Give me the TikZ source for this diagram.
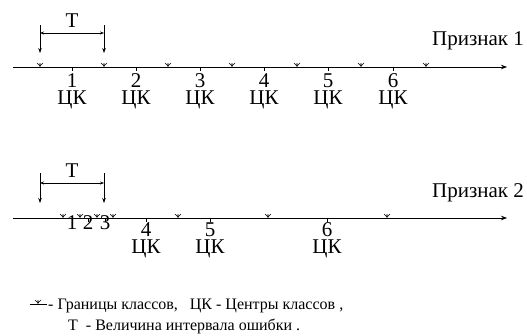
\documentclass[tikz,border=0pt]{standalone}
\usepackage{fontspec}
\setmainfont{Liberation Serif}
\newfontfamily\tnr{Liberation Serif}
\usetikzlibrary{arrows.meta, positioning}

\tikzset{
  axis/.style={line width=0.7pt, -{Stealth[length=6pt,width=4.5pt]}},
  tmark/.style={line width=0.6pt, -{Stealth[length=5pt,width=3.5pt]}},
  tspan/.style={line width=0.6pt, {Stealth[length=4pt,width=3pt]}-{Stealth[length=4pt,width=3pt]}},
  tick/.style={line width=0.6pt},
  lbl/.style={font=\tnr\fontsize{21}{16}\selectfont, inner sep=0pt},
  legend/.style={font=\tnr\fontsize{16}{16}\selectfont, inner sep=0pt, anchor=base west},
  bnd/.pic={\draw[line width=0.6pt] (-3,-4) -- (0,-1) -- (3,-4) (0,-4) -- (0,0);}
}

\begin{document}
\begin{tikzpicture}[x=1pt, y=-1pt]
  \useasboundingbox (0,0) rectangle (527,335);

  % Feature 1
  \begin{scope}[shift={(0,67)}]
    \coordinate (s1) at (13,0);
    \coordinate (e1) at (507,0);
    \draw[axis] (s1) -- (e1);
    \foreach \x in {40,104,168,232,297,361,426}
      \pic at (\x,0) {bnd};
    \foreach \x/\n in {72/1,136/2,200/3,264/4,328/5,393/6} {
      \draw[tick] (\x,0) -- (\x,4);
      \node[lbl, anchor=base] (da\n) at (\x,20) {\n};
      \node[lbl, anchor=base] (ka\n) at (\x,37.5) {ЦК};
    }
    % error interval
    \coordinate (ta1) at (40,-42);  \coordinate (ta2) at (40,-14);
    \coordinate (tb1) at (104,-42); \coordinate (tb2) at (104,-14);
    \coordinate (ha) at (40,-34);   \coordinate (hb) at (104,-34);
    \draw[tmark] (ta1) -- (ta2);
    \draw[tmark] (tb1) -- (tb2);
    \draw[tspan] (ha) -- (hb);
    \node[lbl, anchor=base] (ta) at (72,-40) {T};
    \node[lbl, anchor=base west] (pa) at (432,-22) {Признак 1};
  \end{scope}

  % Feature 2
  \begin{scope}[shift={(0,218)}]
    \coordinate (s2) at (13,0);
    \coordinate (e2) at (507,0);
    \draw[axis] (s2) -- (e2);
    \foreach \x in {63,80,97,113,178,268,387}
      \pic at (\x,0) {bnd};
    \foreach \x/\n in {72/1,88/2,105/3} {
      \draw[tick] (\x,0) -- (\x,4);
      \node[lbl, anchor=base] (db\n) at (\x,11) {\n};
    }
    \foreach \x/\n in {146/4,210/5,327/6} {
      \draw[tick] (\x,0) -- (\x,4);
      \node[lbl, anchor=base] (db\n) at (\x,18) {\n};
      \node[lbl, anchor=base] (kb\n) at (\x,35.5) {ЦК};
    }
    % error interval
    \coordinate (tc1) at (40,-45);  \coordinate (tc2) at (40,-15);
    \coordinate (td1) at (104,-45); \coordinate (td2) at (104,-15);
    \coordinate (hc) at (40,-35);   \coordinate (hd) at (104,-35);
    \draw[tmark] (tc1) -- (tc2);
    \draw[tmark] (td1) -- (td2);
    \draw[tspan] (hc) -- (hd);
    \node[lbl, anchor=base] (tb) at (72,-41) {T};
    \node[lbl, anchor=base west] (pb) at (432,-21) {Признак 2};
  \end{scope}

  % legend
  \coordinate (la) at (30,304);
  \coordinate (lb) at (47,304);
  \draw[tick] (la) -- (lb);
  \pic at (38,304) {bnd};
  \node[legend] (l1) at (48,309) {- Границы классов,\ \ \ ЦК - Центры классов ,};
  \node[legend] (l2) at (68,330) {Т\ \ - Величина интервала ошибки .};
\end{tikzpicture}
\end{document}
